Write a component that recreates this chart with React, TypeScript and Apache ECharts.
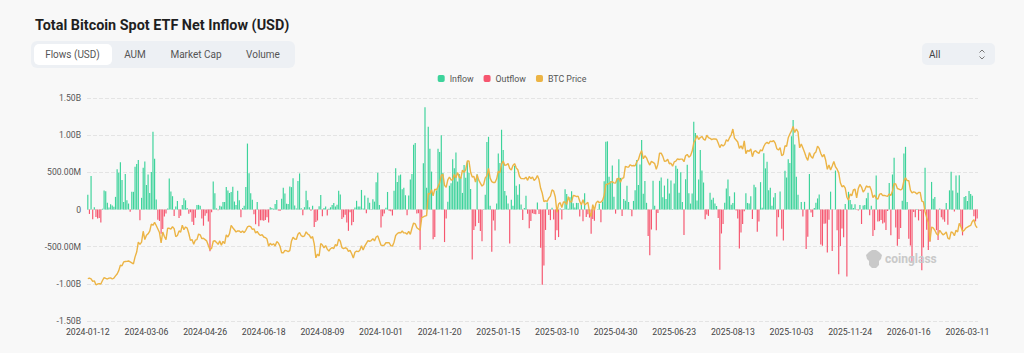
import React, { useEffect, useRef } from "react";
import * as echarts from "echarts";

// Daily net flows, USD millions (one value per US trading day)
const flows2024H1 = [
  200, -60, 450, -130, 30, -100, -120, -115, -175, 10, 255, 245, 90,
  27, 72, 54, 36, 170, 540, 495, 634, 396, 100, 477, 126, 80, -30, 238, 238, 576, 612, 666, -144,
  157, 560, 645, 330, 472, 223, 505, 1045, 684, 133, -139, -154, -326, -261, -94, -53, 15, 418, 243, 179,
  -86, 40, 113, -113, -84, 60, 150, 124, 20, -56, -37, -166, -210, -110, 60, 62, 50, -120, -218, -84, -50, -162,
  -563, -37, 378, 217, 15, -11, 50, 40, 100, 100, 303, 257, 222, 237, 305, 107, 60, 252, 125, -105, 20, 49,
  302, 887, 488, 217, 131, -65, -200, 100, -226, -145, -146, -152, -140, -105, -175, 31, 21, 11, 73,
];
const flows2024H2 = [
  129, -13, -20, 143, 294, 216, 78, 73, 310, 301, 422, 53, 15, 383, 485, 17, -78, 31, 252, 124, 30, -18,
  50, -237, -168, -148, 45, 195, -90, 20, 39, -81, 11, 30, 62, 88, 39, 65, 252, 202, -127, -105, -71, -175,
  -287, -37, -211, -169, 28, 117, 39, 39, 263, 12, 187, -52, 158, 92, 4, 137, 106, 365, 494, 61,
  -242, -92, -54, 25, 236, -18, -25, -81, 253, 555, 371, 458, 470, 273, 294, 192, -79, 188, 402, 479, 870, 893, -54,
  -50, -541, -116, 622, 1376, 294, 1114, 818, 510, -400, -371, 255, 817, 773, 1000, 490, -438, -122, 104, 320,
  353, 676, 556, 766, 376, 479, 439, 223, 597, 428, 637, 493, 276, -672, -277, -226, 475, -183, -288, -426, 5,
];
const flows2025H1 = [
  200, 908, 978, 52, -568, -149, -284, 80, 755, 626, 1073, 802, 248, 188, 80, -458, 130, 50, 588, 318,
  200, 340, 66, -140, 20, 186, -56, -251, -156, -50, -61, -65, 95, -60, -516, -1014, -755, -275, 95,
  -74, -143, 22, -134, -409, -280, -371, 13, -135, 5, 274, 209, 11, 165, 244, 84, 27, 89, 89, -93, 60,
  -157, 218, -100, -64, -109, -326, -127, -150, 1, 2, 76, -170, 107, 381, 912, 917, 442, 380, 591, 173, -56,
  422, 675, 425, -86, 142, 117, 321, 100, 8, -92, 115, 260, 667, 329, 607, 934, 211, 385, 90, -358, -616,
  -268, 387, 50, -278, -48, 386, 431, 165, 322, 140, 412, 216, 389, 6, 350, 588, 548, 226, 501, 102,
];
const flows2025H2 = [
  -342, 408, 602, 217, 80, 216, 1180, 1030, 120, 403, 800, 523, 363, -131, -68, -86, 227, 131, 158, 80, 47, -114,
  -812, -323, -196, 91, 281, 404, 178, 65, 87, 231, -14, -122, -523, -311, -194, -23, 219, 88, 81, 179, -127,
  333, 301, -300, -160, 368, 23, 757, 553, 642, 260, 292, 51, 163, 223, -363, -104, 241, -258, -418, 522, 430,
  676, 627, 985, 1205, 875, 441, 198, -4, 102, -94, 103, -531, -367, 477, -41, -101, 20, 90, 149, 202, -471, -488, -191,
  -187, -578, -137, 240, -558, -1, 524, -278, -870, -492, -255, -373, 75, -903, 238, 129, 71, 21, 71,
  -4, -15, 59, -195, 55, 60, 152, 224, -77, 49, -358, -277, 457, -161, -158, -142, -189, -175, -276, -19, 355, -348,
];
const flows2026 = [
  471, 697, -243, -486, -398, -250, 117, 754, 843, 100, -395, -483, -709, -32, -104, 7, -147, -20, -818, -510,
  562, -272, -545, -434, 371, 145, 167, -277, -410, 15, -105, -134, -165, 88, -204, 258, 507, 254, -28,
  458, 225, 462, -228, -348, 168, 180, 115, 250, 210, 185, -90, -160, -120,
];

// BTC price, USD thousands
const prices2024H1 = [
  42.8, 43.1, 42.7, 41.3, 41.6, 39.5, 39.9, 40.1, 39.9, 41.8, 43.3, 42.9, 42.6,
  43.1, 43.2, 42.6, 43.1, 44.3, 45.3, 47.1, 50.0, 49.7, 51.8, 52.0, 52.1, 52.3, 51.8, 51.3, 50.7, 54.5, 57.1, 62.5, 61.2,
  62.4, 68.3, 63.8, 66.1, 66.9, 68.3, 72.1, 71.5, 73.1, 71.4, 69.5, 67.6, 62.0, 67.9, 65.5, 63.8, 69.9, 69.9, 69.5, 70.7,
  69.7, 65.4, 66.0, 68.5, 67.8, 71.6, 69.1, 70.6, 70.0, 67.1, 63.4, 63.8, 61.3, 63.5, 63.8, 66.8, 66.4, 64.3, 64.5, 63.8, 63.1, 60.6,
  58.3, 59.1, 62.9, 63.2, 62.3, 61.2, 63.1, 60.8, 62.9, 61.6, 66.3, 65.2, 67.0, 71.4, 70.2, 69.1, 67.9, 68.5, 68.4, 67.6, 68.4, 67.5,
  68.8, 70.6, 71.1, 70.8, 69.3, 69.6, 67.3, 68.2, 66.8, 66.0, 66.5, 65.2, 64.9, 64.1, 60.3, 61.8, 60.9, 61.6, 60.3,
];
const prices2024H2 = [
  62.7, 62.0, 60.2, 56.7, 56.7, 58.0, 57.8, 57.3, 57.9, 62.9, 65.1, 64.1, 63.9, 66.7, 67.6, 65.9, 65.4, 65.8, 68.0, 66.8, 66.2, 64.6,
  65.4, 61.5, 54.0, 56.0, 55.0, 61.7, 60.9, 59.4, 60.6, 58.7, 57.6, 58.9, 59.5, 59.0, 61.2, 60.4, 64.1, 62.9, 59.5, 59.0, 59.4, 59.1,
  57.5, 58.0, 56.2, 53.9, 57.0, 57.6, 57.3, 58.1, 60.5, 58.2, 60.3, 61.8, 63.2, 62.9, 63.3, 64.3, 63.1, 65.2, 65.8, 63.3,
  60.8, 60.6, 60.8, 62.1, 62.2, 62.1, 60.6, 60.3, 62.4, 66.0, 67.0, 67.6, 67.4, 68.4, 67.4, 67.4, 66.7, 68.2, 66.6, 69.9, 72.7, 72.3, 70.2,
  69.5, 68.8, 75.6, 76.0, 76.5, 76.7, 88.7, 88.3, 90.6, 87.3, 91.0, 90.5, 92.3, 94.3, 98.4, 98.9, 93.0, 91.9, 95.9, 97.5,
  95.9, 96.0, 98.8, 97.0, 99.9, 97.4, 96.7, 101.2, 100.0, 101.4, 106.1, 106.1, 100.0, 97.5, 97.8, 94.7, 98.7, 95.8, 94.2, 92.6, 93.4,
];
const prices2025H1 = [
  97.0, 98.1, 102.1, 96.9, 95.0, 94.5, 94.5, 96.5, 100.5, 99.8, 104.4, 106.1, 103.7, 104.0, 104.8, 102.1, 101.3, 103.7, 104.7, 102.4,
  101.4, 97.9, 96.6, 96.6, 96.5, 97.4, 95.7, 97.8, 96.6, 97.5, 95.6, 96.5, 98.3, 96.1, 91.4, 88.7, 84.3, 84.7, 84.4,
  86.1, 87.2, 90.6, 89.9, 86.7, 78.5, 82.9, 83.7, 81.1, 84.0, 84.0, 82.7, 86.9, 84.2, 84.1, 87.5, 87.4, 86.9, 87.2, 84.4, 82.5,
  85.2, 82.5, 83.1, 83.9, 78.4, 76.3, 82.6, 79.6, 83.4, 84.5, 83.7, 84.0, 84.9, 87.5, 93.4, 93.7, 93.9, 94.7, 95.0, 94.3, 94.2,
  96.5, 96.9, 94.7, 96.8, 97.0, 103.2, 102.9, 102.8, 104.1, 103.5, 103.7, 103.5, 105.6, 106.8, 109.7, 111.7, 107.3, 108.9, 107.8, 105.6, 103.9,
  105.9, 105.4, 104.7, 101.6, 104.4, 110.3, 110.3, 108.6, 105.9, 106.1, 107.0, 104.6, 104.9, 103.3, 105.6, 106.0, 107.3, 106.9, 107.1, 107.1,
];
const prices2025H2 = [
  105.7, 108.9, 109.6, 108.2, 108.9, 111.3, 115.9, 117.5, 119.8, 117.7, 118.7, 119.3, 117.9, 117.3, 120.0, 118.7, 118.3, 117.6, 118.0, 117.9, 117.8, 115.8,
  113.3, 115.0, 114.1, 115.0, 117.5, 116.7, 118.7, 120.2, 123.3, 118.4, 117.4, 116.3, 112.9, 114.3, 112.5, 116.9, 110.1, 111.8, 111.3, 112.6, 108.4,
  111.2, 111.7, 110.7, 110.2, 112.1, 111.5, 113.9, 115.5, 116.1, 115.4, 116.8, 116.5, 117.1, 115.7, 112.7, 112.0, 113.3, 109.0, 109.6, 114.3, 114.0,
  118.6, 120.6, 122.3, 124.7, 121.4, 123.3, 121.7, 113.2, 115.3, 113.1, 110.8, 108.2, 106.4, 110.6, 108.5, 107.6, 110.1, 111.0, 114.1, 112.9, 110.1, 108.3, 109.6,
  106.5, 101.6, 103.9, 101.3, 103.4, 105.8, 103.0, 101.7, 99.7, 94.4, 92.2, 92.9, 91.5, 86.6, 85.1, 88.3, 87.4, 90.5, 90.9,
  86.3, 91.3, 93.5, 92.1, 89.4, 90.6, 92.7, 92.0, 92.5, 90.3, 86.4, 87.8, 86.1, 85.5, 88.1, 88.6, 87.5, 87.6, 87.3, 87.1, 88.4, 87.5,
];
const prices2026 = [
  90.0, 93.9, 93.7, 91.3, 91.0, 90.5, 91.2, 95.4, 97.0, 95.6, 95.5, 90.4, 89.0, 89.5, 89.2, 88.3, 89.2, 89.2, 84.5, 84.1,
  78.7, 75.6, 73.0, 62.9, 70.5, 70.1, 68.8, 67.0, 66.2, 68.8, 67.5, 66.4, 66.9, 67.9, 64.6, 64.1, 68.0, 67.5, 65.9,
  68.8, 67.9, 72.5, 70.9, 68.2, 68.8, 70.0, 70.5, 71.0, 71.4, 73.5, 74.5, 71.3, 70.2,
];

const marketHolidays = [
  "2024-01-15", "2024-02-19", "2024-03-29", "2024-05-27", "2024-06-19", "2024-07-04", "2024-09-02", "2024-11-28", "2024-12-25",
  "2025-01-01", "2025-01-09", "2025-01-20", "2025-02-17", "2025-04-18", "2025-05-26", "2025-06-19", "2025-07-04", "2025-09-01", "2025-11-27", "2025-12-25",
  "2026-01-01", "2026-01-19", "2026-02-16",
];
const firstDay = "2024-01-12";
const lastDay = "2026-03-19";
const tabNames = ["Flows (USD)", "AUM", "Market Cap", "Volume"];
const legendNames = ["Inflow", "Outflow", "BTC Price"];

function buildDates(): string[] {
  const out: string[] = [];
  const hol = new Set(marketHolidays);
  const d = new Date(firstDay + "T00:00:00Z");
  const end = new Date(lastDay + "T00:00:00Z");
  while (d.getTime() <= end.getTime()) {
    const wd = d.getUTCDay();
    const s = d.toISOString().slice(0, 10);
    if (wd !== 0 && wd !== 6 && !hol.has(s)) out.push(s);
    d.setUTCDate(d.getUTCDate() + 1);
  }
  return out;
}

const GREEN = "#3dd39b";
const RED = "#f6566f";
const ORANGE = "#ecb445";
const FONT = "Roboto, 'Noto Sans', sans-serif";

echarts.graphic.registerShape(
  "cgLogo",
  echarts.graphic.extendPath(
    "M4 2 L7 0 L11 0 L14 2 L17 5 L16 9 L14 11 L14 15 L11 18 L7 18 L4 15 L4 11 L2 9 L1 5 Z",
    {}
  )
);

export default function App() {
  const ref = useRef<HTMLDivElement>(null);
  useEffect(() => {
    document.body.style.margin = "0";
    document.body.style.background = "#f8f8f8";
    if (!ref.current) return;
    const chart = echarts.init(ref.current, undefined, { renderer: "svg" });
    const flows = [...flows2024H1, ...flows2024H2, ...flows2025H1, ...flows2025H2, ...flows2026];
    const prices = [...prices2024H1, ...prices2024H2, ...prices2025H1, ...prices2025H2, ...prices2026];
    const dates = buildDates().slice(0, flows.length);
    const tabX = [72.5, 135, 196, 263];

    const fmt = (v: number) => {
      if (v === 0) return "0";
      if (Math.abs(v) >= 1000) return (v / 1000).toFixed(2) + "B";
      return v.toFixed(2) + "M";
    };

    chart.setOption({
      animation: false,
      backgroundColor: "#f8f8f8",
      textStyle: { fontFamily: FONT },
      title: {
        text: "Total Bitcoin Spot ETF Net Inflow (USD)",
        left: 30,
        top: 13,
        textStyle: { fontSize: 14.4, fontWeight: "bold", color: "#1f1f1f", fontFamily: FONT },
      },
      legend: {
        data: legendNames,
        top: 69,
        left: "center",
        icon: "roundRect",
        itemWidth: 7,
        itemHeight: 7,
        itemGap: 10,
        textStyle: { fontSize: 8.8, color: "#555", fontFamily: FONT },
      },
      grid: { left: 87, right: 46, top: 98, bottom: 32 },
      xAxis: {
        type: "category",
        data: dates,
        boundaryGap: true,
        axisLine: { show: false },
        axisTick: { show: false },
        axisLabel: { interval: 35, fontSize: 8.7, color: "#444", margin: 6, fontFamily: FONT },
      },
      yAxis: [
        {
          type: "value",
          min: -1500,
          max: 1500,
          interval: 500,
          axisLabel: { formatter: fmt, fontSize: 8.6, color: "#555", margin: 6, fontFamily: FONT },
          splitLine: { lineStyle: { type: "dashed", color: "#e4e4e4" } },
          axisLine: { show: false },
          axisTick: { show: false },
        },
        {
          type: "value",
          min: 20,
          max: 140,
          show: false,
          splitLine: { show: false },
        },
      ],
      graphic: [
        { type: "rect", shape: { x: 31, y: 41, width: 264, height: 27, r: 6 }, style: { fill: "#edf0f4" } },
        { type: "rect", shape: { x: 34, y: 44, width: 78, height: 21, r: 5 }, style: { fill: "#ffffff" } },
        ...tabNames.map((t, i) => ({
          type: "text",
          x: tabX[i],
          y: 54.5,
          style: {
            text: t,
            fontSize: 10,
            fill: "#555",
            fontFamily: FONT,
            align: "center",
            verticalAlign: "middle",
          },
        })),
        { type: "rect", shape: { x: 922, y: 43, width: 73, height: 22, r: 5 }, style: { fill: "#edf0f4" } },
        {
          type: "text",
          x: 929,
          y: 54.5,
          style: { text: "All", fontSize: 10, fill: "#444", fontFamily: FONT, verticalAlign: "middle" },
        },
        { type: "polyline", shape: { points: [[979.5, 52.5], [982, 50], [984.5, 52.5]] }, style: { stroke: "#777", lineWidth: 1, fill: null } },
        { type: "polyline", shape: { points: [[979.5, 56.5], [982, 59], [984.5, 56.5]] }, style: { stroke: "#777", lineWidth: 1, fill: null } },
        { type: "cgLogo", x: 865, y: 250, scaleX: 1, scaleY: 1, style: { fill: "#c9c9c9" }, z: 100 },
        {
          type: "text",
          x: 885,
          y: 259,
          z: 100,
          style: { text: "coinglass", fontSize: 12, fontWeight: "bold", fill: "#c9c9c9", fontFamily: FONT, verticalAlign: "middle" },
        },
      ],
      series: [
        {
          name: "Inflow",
          type: "bar",
          data: flows.map((v) => (v > 0 ? v : "-")),
          itemStyle: { color: GREEN },
          barWidth: "72%",
          barGap: "-100%",
        },
        {
          name: "Outflow",
          type: "bar",
          data: flows.map((v) => (v < 0 ? v : "-")),
          itemStyle: { color: RED },
          barWidth: "72%",
          barGap: "-100%",
        },
        {
          name: "BTC Price",
          type: "line",
          yAxisIndex: 1,
          data: prices,
          showSymbol: false,
          symbol: "none",
          itemStyle: { color: ORANGE },
          lineStyle: { color: ORANGE, width: 1.4 },
          z: 5,
        },
      ],
    });
    return () => chart.dispose();
  }, []);
  return <div ref={ref} style={{ width: 1024, height: 353 }} />;
}
